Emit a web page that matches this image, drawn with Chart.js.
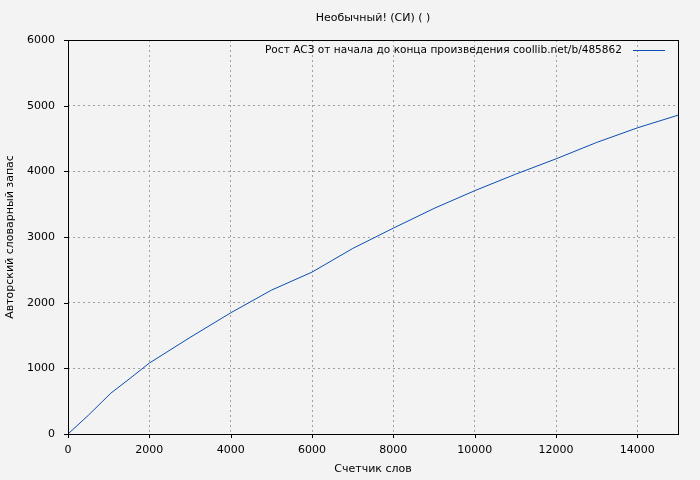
<!DOCTYPE html>
<html>
<head>
<meta charset="utf-8">
<script src="https://cdn.jsdelivr.net/npm/chart.js@4/dist/chart.umd.min.js"></script>
<style>
    html, body { margin: 0; padding: 0; background: #f3f3f3; }
    #wrap { width: 700px; height: 480px; }
</style>
</head>
<body>
<div id="wrap"><canvas id="c"></canvas></div>
<script>
const titleText = "Необычный! (СИ) ( )";
const seriesLabel = "Рост АСЗ от начала до конца произведения coollib.net/b/485862";
const xTitle = "Счетчик слов";
const yTitle = "Авторский словарный запас";

// word count -> vocabulary size
const words = [0, 500, 1050, 1500, 2000, 3000, 4000, 5000, 6000, 7000, 8000, 9000, 10000, 11000, 12000, 13000, 14000, 15000];
const vocab = [0, 285, 620, 835, 1080, 1470, 1845, 2190, 2465, 2825, 3135, 3435, 3705, 3955, 4190, 4440, 4662, 4855];

const xTicks = [0, 2000, 4000, 6000, 8000, 10000, 12000, 14000];
const yTicks = [0, 1000, 2000, 3000, 4000, 5000, 6000];

const FONT = "DejaVu Sans, sans-serif";
const LINE_COLOR = "#0a4db3";

const framePlugin = {
    id: "gnuFrame",
    afterDraw(chart) {
        const ctx = chart.ctx;
        const a = chart.chartArea;
        const xs = chart.scales.x, ys = chart.scales.y;
        ctx.save();
        ctx.strokeStyle = "#000";
        ctx.lineWidth = 1;
        ctx.setLineDash([]);
        ctx.strokeRect(Math.round(a.left) + 0.5, Math.round(a.top) + 0.5,
            Math.round(a.right - a.left), Math.round(a.bottom - a.top));
        ctx.beginPath();
        xTicks.forEach(v => {
            const px = Math.round(xs.getPixelForValue(v)) + 0.5;
            ctx.moveTo(px, a.bottom); ctx.lineTo(px, a.bottom + 4);
        });
        yTicks.forEach(v => {
            const py = Math.round(ys.getPixelForValue(v)) + 0.5;
            ctx.moveTo(a.left - 4, py); ctx.lineTo(a.left, py);
        });
        ctx.stroke();

        // title
        ctx.fillStyle = "#000";
        ctx.font = "11px " + FONT;
        ctx.textAlign = "center";
        ctx.textBaseline = "middle";
        ctx.fillText(titleText, (a.left + a.right) / 2, 18);

        // legend: text then line sample, top-right inside the plot
        ctx.textAlign = "right";
        ctx.fillText(seriesLabel, 622, 50, 357);
        ctx.strokeStyle = LINE_COLOR;
        ctx.beginPath();
        ctx.moveTo(633, 50.5); ctx.lineTo(665, 50.5);
        ctx.stroke();
        ctx.restore();
    },
};

new Chart(document.getElementById("c"), {
    type: "line",
    data: {
        datasets: [{
            label: seriesLabel,
            data: words.map((w, i) => ({ x: w, y: vocab[i] })),
            borderColor: LINE_COLOR,
            borderWidth: 1,
            pointRadius: 0,
            tension: 0,
            fill: false,
        }],
    },
    plugins: [framePlugin],
    options: {
        responsive: true,
        maintainAspectRatio: false,
        animation: false,
        devicePixelRatio: 1,
        layout: { padding: { top: 40, right: 22, left: 0, bottom: 0 } },
        plugins: {
            legend: { display: false },
            title: { display: false },
            tooltip: { enabled: false },
        },
        scales: {
            x: {
                type: "linear",
                min: 0,
                max: 15000,
                afterBuildTicks: s => { s.ticks = xTicks.map(v => ({ value: v })); },
                afterFit: s => { s.height = 46; },
                border: { display: false, dash: [2, 3] },
                grid: { color: "#a0a0a0", drawTicks: false, lineWidth: 1 },
                ticks: { color: "#000", font: { family: FONT, size: 11 }, padding: 10, maxRotation: 0, callback: v => String(v) },
                title: { display: true, text: xTitle, color: "#000", font: { family: FONT, size: 11 }, padding: { top: 6, bottom: 4 } },
            },
            y: {
                type: "linear",
                min: 0,
                max: 6000,
                afterBuildTicks: s => { s.ticks = yTicks.map(v => ({ value: v })); },
                afterFit: s => { s.width = 68; },
                border: { display: false, dash: [2, 3] },
                grid: { color: "#a0a0a0", drawTicks: false, lineWidth: 1 },
                ticks: { color: "#000", font: { family: FONT, size: 11 }, padding: 13, callback: v => String(v) },
                title: { display: true, text: yTitle, color: "#000", font: { family: FONT, size: 11 }, padding: { top: 4, bottom: 0 } },
            },
        },
    },
});
</script>
</body>
</html>
